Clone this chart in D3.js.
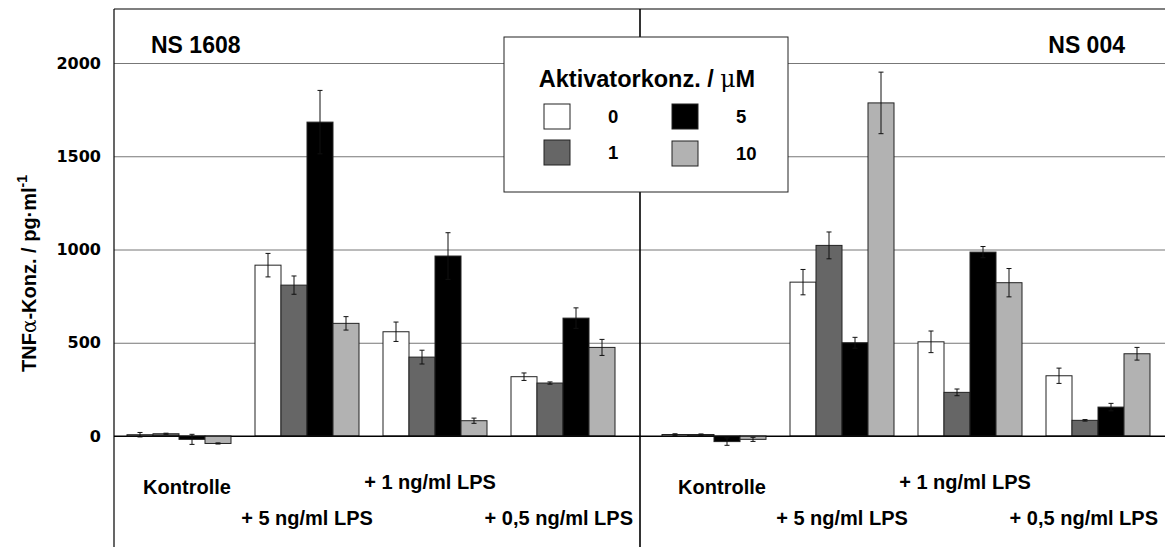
<!DOCTYPE html>
<html>
<head>
<meta charset="utf-8">
<script src="https://cdn.jsdelivr.net/npm/d3@7"></script>
<style>
  html, body { margin: 0; padding: 0; background: #fff; }
  svg { display: block; }
  text { font-family: "Liberation Sans", Arial, sans-serif; font-weight: bold; fill: #000; }
</style>
</head>
<body>
<svg id="chart" width="1165" height="547"></svg>
<script>
// ---------------- data ----------------
const panelTitles = ["NS 1608", "NS 004"];
const categories = ["Kontrolle", "+ 5 ng/ml LPS", "+ 1 ng/ml LPS", "+ 0,5 ng/ml LPS"];
const seriesLabels = ["0", "1", "5", "10"];
const legendTitle = "Aktivatorkonz. / ";
const yTicks = [0, 500, 1000, 1500, 2000];

// NS 1608 — mean values per activator concentration (µM), per category
const ns1608_0  = [7, 916, 559, 318];
const ns1608_1  = [12, 809, 423, 284];
const ns1608_5  = [-18, 1683, 965, 632];
const ns1608_10 = [-40, 604, 82, 475];
// NS 1608 — error (±)
const ns1608_err0  = [12, 63, 52, 20];
const ns1608_err1  = [3, 49, 37, 6];
const ns1608_err5  = [27, 170, 125, 55];
const ns1608_err10 = [3, 36, 14, 43];

// NS 004 — mean values
const ns004_0  = [8, 825, 505, 323];
const ns004_1  = [8, 1022, 234, 84];
const ns004_5  = [-30, 500, 986, 155];
const ns004_10 = [-18, 1786, 822, 441];
// NS 004 — error (±)
const ns004_err0  = [4, 68, 58, 41];
const ns004_err1  = [3, 72, 18, 4];
const ns004_err5  = [20, 29, 30, 20];
const ns004_err10 = [11, 165, 76, 34];

// ---------------- styling / layout ----------------
const colors = ["#ffffff", "#666666", "#000000", "#b2b2b2"];
const W = 1165, H = 547;
const frameLeft = 114, frameTop = 9, divider = 640;

const panels = [
  { title: panelTitles[0], range: [115, 627], x0: frameLeft, x1: divider,
    values: [ns1608_0, ns1608_1, ns1608_5, ns1608_10],
    errors: [ns1608_err0, ns1608_err1, ns1608_err5, ns1608_err10] },
  { title: panelTitles[1], range: [650, 1162], x0: divider, x1: W,
    values: [ns004_0, ns004_1, ns004_5, ns004_10],
    errors: [ns004_err0, ns004_err1, ns004_err5, ns004_err10] }
];

const svg = d3.select("#chart");
const y = d3.scaleLinear().domain([0, 2000]).range([436, 63]);

// gridlines + tick labels
const axis = d3.axisLeft(y).tickValues(yTicks).tickFormat(d3.format("d"))
  .tickSize(-(W - frameLeft)).tickPadding(13);
const gAxis = svg.append("g").attr("transform", `translate(${frameLeft},0)`).call(axis);
gAxis.select(".domain").remove();
gAxis.selectAll(".tick line").attr("stroke", d => d === 0 ? "#000" : "#777").attr("stroke-width", 1);
gAxis.selectAll(".tick text")
  .style("font-family", "'DejaVu Sans', sans-serif")
  .style("font-weight", "bold")
  .style("font-size", "16px")
  .attr("fill", "#000");

// bars
const inner = d3.scaleBand().domain(seriesLabels).range([0, 104]).padding(0);
const labelBaselines = [494, 525, 489, 525];
const labelShift = [8, 0, -5, 0];

panels.forEach(p => {
  const x = d3.scaleBand().domain(categories).range(p.range).paddingInner(0.1875).paddingOuter(0.09375);
  inner.range([0, x.bandwidth()]);
  const g = svg.append("g");
  const recs = [];
  seriesLabels.forEach((s, si) => {
    categories.forEach((c, ci) => {
      recs.push({ s, si, c, v: p.values[si][ci], e: p.errors[si][ci] });
    });
  });
  g.selectAll("rect.bar").data(recs).join("rect")
    .attr("class", "bar")
    .attr("x", d => x(d.c) + inner(d.s))
    .attr("width", inner.bandwidth())
    .attr("y", d => Math.min(y(d.v), y(0)))
    .attr("height", d => Math.abs(y(d.v) - y(0)))
    .attr("fill", d => colors[d.si])
    .attr("stroke", "#222")
    .attr("stroke-width", 1);

  const eb = g.selectAll("g.err").data(recs).join("g").attr("class", "err")
    .attr("stroke", "#111").attr("stroke-width", 1);
  eb.append("line")
    .attr("x1", d => x(d.c) + inner(d.s) + inner.bandwidth() / 2)
    .attr("x2", d => x(d.c) + inner(d.s) + inner.bandwidth() / 2)
    .attr("y1", d => y(d.v - d.e)).attr("y2", d => y(d.v + d.e));
  [1, -1].forEach(sign => {
    eb.append("line")
      .attr("x1", d => x(d.c) + inner(d.s) + inner.bandwidth() / 2 - 2.5)
      .attr("x2", d => x(d.c) + inner(d.s) + inner.bandwidth() / 2 + 2.5)
      .attr("y1", d => y(d.v + sign * d.e)).attr("y2", d => y(d.v + sign * d.e));
  });

  // category labels (two staggered rows)
  categories.forEach((c, ci) => {
    const cx = x(c) + x.bandwidth() / 2 + labelShift[ci];
    const t = svg.append("text")
      .attr("x", cx)
      .attr("y", labelBaselines[ci])
      .attr("text-anchor", "middle")
      .style("font-size", "20px")
      .text(c);
    const w = t.node().getComputedTextLength();
    if (cx + w / 2 > p.x1 - 7) t.attr("x", p.x1 - 7 - w / 2);
  });

  // panel title
  const isLeft = p.x0 === frameLeft;
  svg.append("text")
    .attr("x", isLeft ? 151 : 1125)
    .attr("y", 53)
    .attr("text-anchor", isLeft ? "start" : "end")
    .style("font-size", "23px")
    .text(p.title);
});

// zero line on top of bars
svg.append("line").attr("x1", frameLeft).attr("x2", W).attr("y1", y(0)).attr("y2", y(0))
  .attr("stroke", "#000").attr("stroke-width", 1);

// frame
svg.append("line").attr("x1", frameLeft).attr("x2", W).attr("y1", frameTop).attr("y2", frameTop)
  .attr("stroke", "#000").attr("stroke-width", 1.2);
svg.append("line").attr("x1", frameLeft).attr("x2", frameLeft).attr("y1", frameTop).attr("y2", H)
  .attr("stroke", "#000").attr("stroke-width", 1.2);
svg.append("line").attr("x1", divider).attr("x2", divider).attr("y1", frameTop).attr("y2", H)
  .attr("stroke", "#000").attr("stroke-width", 1.6);

// y-axis title
const yt = svg.append("text")
  .attr("transform", "translate(36,372) rotate(-90)")
  .style("font-size", "20px");
yt.append("tspan").text("TNF");
yt.append("tspan").style("font-family", "'DejaVu Serif', 'Liberation Serif', serif").style("font-weight", "normal").text("α");
yt.append("tspan").text("-Konz. / pg·ml");
yt.append("tspan").attr("dy", -9).style("font-size", "14px").text("-1");

// legend
const lg = svg.append("g");
lg.append("rect").attr("x", 504).attr("y", 37).attr("width", 284).attr("height", 155)
  .attr("fill", "#fff").attr("stroke", "#222").attr("stroke-width", 1);
const lt = lg.append("text").attr("x", 647).attr("y", 87).attr("text-anchor", "middle")
  .style("font-size", "23.5px");
lt.append("tspan").text(legendTitle);
lt.append("tspan").style("font-family", "'DejaVu Serif', 'Liberation Serif', serif").style("font-weight", "normal").text("μ");
lt.append("tspan").text("M");

const legendPos = [[544, 104], [544, 140], [672, 104], [672, 141]];
seriesLabels.forEach((s, i) => {
  const [lx, ly] = legendPos[i];
  lg.append("rect").attr("x", lx).attr("y", ly).attr("width", 26).attr("height", 25)
    .attr("fill", colors[i]).attr("stroke", "#222").attr("stroke-width", 1);
  lg.append("text").attr("x", lx + 64).attr("y", ly + 19)
    .style("font-size", "18.5px").text(s);
});
</script>
</body>
</html>
